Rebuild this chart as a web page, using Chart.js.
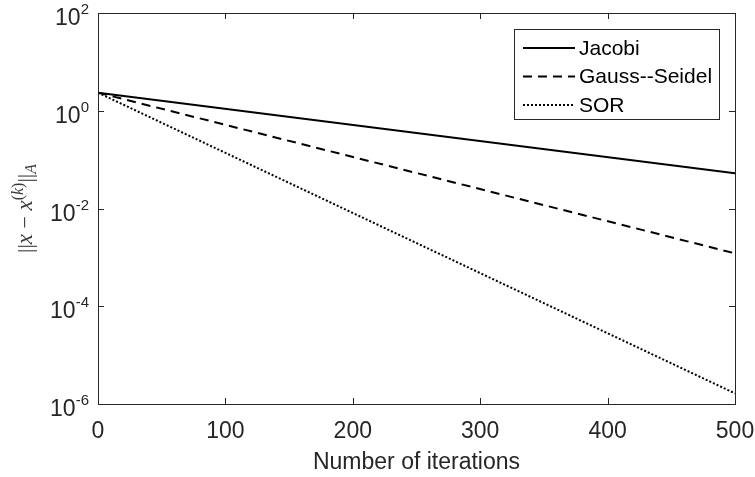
<!DOCTYPE html>
<html>
<head>
<meta charset="utf-8">
<title>Convergence of stationary iterative methods</title>
<script src="https://cdn.jsdelivr.net/npm/chart.js@4.4.0/dist/chart.umd.min.js"></script>
<style>
  html, body { margin: 0; padding: 0; background: #fff; }
  #wrap { width: 755px; height: 477px; position: relative; }
</style>
</head>
<body>
<div id="wrap"><canvas id="conv"></canvas></div>
<script>
// A-norm error after k iterations, one array per method
const iterations = [0, 500];
const jacobiErr = [2.34, 0.0525];
const gaussSeidelErr = [2.34, 1.21e-3];
const sorErr = [2.34, 1.65e-6];

const methodNames = ['Jacobi', 'Gauss--Seidel', 'SOR'];
const xTicks = [0, 100, 200, 300, 400, 500];
const yExponents = [-6, -4, -2, 0, 2];

const AXIS = '#262626';
const SANS = '"Liberation Sans", Arial, Helvetica, sans-serif';
const SERIF = '"Liberation Serif", "DejaVu Serif", serif';

function toPoints(values) {
    return iterations.map((x, i) => ({ x: x, y: values[i] }));
}

// box, inward ticks, 10^n labels, TeX-like y label and the legend
const matlabAxes = {
    id: 'matlabAxes',
    afterDraw(chart) {
        const ctx = chart.ctx;
        const { left, right, top, bottom } = chart.chartArea;
        const xs = chart.scales.x, ys = chart.scales.y;
        const tick = 6;

        ctx.save();
        ctx.strokeStyle = AXIS;
        ctx.lineWidth = 1;
        ctx.setLineDash([]);
        ctx.strokeRect(Math.round(left) + 0.5, Math.round(top) + 0.5,
                       Math.round(right - left), Math.round(bottom - top));

        ctx.beginPath();
        xTicks.forEach(v => {
            const px = Math.round(xs.getPixelForValue(v)) + 0.5;
            ctx.moveTo(px, bottom); ctx.lineTo(px, bottom - tick);
            ctx.moveTo(px, top); ctx.lineTo(px, top + tick);
        });
        yExponents.forEach(e => {
            const py = Math.round(ys.getPixelForValue(Math.pow(10, e))) + 0.5;
            ctx.moveTo(left, py); ctx.lineTo(left + tick, py);
            ctx.moveTo(right, py); ctx.lineTo(right - tick, py);
        });
        ctx.stroke();

        // y tick labels as 10 with a raised exponent
        ctx.fillStyle = AXIS;
        ctx.textBaseline = 'alphabetic';
        ctx.textAlign = 'left';
        const labelRight = left - 9;
        yExponents.forEach(e => {
            const py = ys.getPixelForValue(Math.pow(10, e));
            const exp = String(e);
            ctx.font = '15px ' + SANS;
            const ew = ctx.measureText(exp).width;
            ctx.fillText(exp, labelRight - ew, py + 1);
            ctx.font = '23px ' + SANS;
            const bw = ctx.measureText('10').width;
            ctx.fillText('10', labelRight - ew - bw, py + 12);
        });

        // y axis label ||x - x^(k)||_A
        const parts = [
            { t: '||', f: '22px ' + SERIF, dy: 0 },
            { t: 'x', f: 'italic 23px ' + SERIF, dy: 0 },
            { t: ' \u2212 ', f: '22px ' + SERIF, dy: 0 },
            { t: 'x', f: 'italic 23px ' + SERIF, dy: 0 },
            { t: '(', f: '16px ' + SERIF, dy: -9 },
            { t: 'k', f: 'italic 16px ' + SERIF, dy: -9 },
            { t: ')', f: '16px ' + SERIF, dy: -9 },
            { t: '||', f: '22px ' + SERIF, dy: 0 },
            { t: 'A', f: 'italic 16px ' + SERIF, dy: 4 }
        ];
        let total = 0;
        parts.forEach(p => { ctx.font = p.f; p.w = ctx.measureText(p.t).width; total += p.w; });
        ctx.save();
        ctx.translate(32, (top + bottom) / 2);
        ctx.rotate(-Math.PI / 2);
        ctx.fillStyle = '#3c3c3c';
        let cx = -total / 2;
        parts.forEach(p => {
            ctx.font = p.f;
            ctx.fillText(p.t, cx, p.dy);
            cx += p.w;
        });
        ctx.restore();

        // legend box in the upper right corner
        ctx.font = '21px ' + SANS;
        const texts = chart.data.datasets.map(d => d.label);
        const textW = Math.max(...texts.map(t => ctx.measureText(t).width));
        const sample = 52, padL = 9, gap = 4, padR = 7, rowH = 28.5;
        const boxW = padL + sample + gap + textW + padR;
        const boxH = 90;
        const bx = Math.round(right - 16 - boxW), by = Math.round(top + 16);
        ctx.fillStyle = '#fff';
        ctx.fillRect(bx, by, boxW, boxH);
        ctx.strokeStyle = AXIS;
        ctx.lineWidth = 1;
        ctx.strokeRect(bx + 0.5, by + 0.5, Math.round(boxW), boxH);
        ctx.textBaseline = 'middle';
        chart.data.datasets.forEach((d, i) => {
            const ry = by + 19 + i * rowH;
            ctx.save();
            ctx.strokeStyle = d.borderColor;
            ctx.lineWidth = d.borderWidth;
            ctx.setLineDash(d.borderDash || []);
            ctx.beginPath();
            ctx.moveTo(bx + padL, ry);
            ctx.lineTo(bx + padL + sample, ry);
            ctx.stroke();
            ctx.restore();
            ctx.fillStyle = '#000';
            ctx.fillText(d.label, bx + padL + sample + gap, ry + 1);
        });
        ctx.restore();
    }
};

const ctx = document.getElementById('conv');
new Chart(ctx, {
    type: 'line',
    data: {
        datasets: [
            { label: methodNames[0], data: toPoints(jacobiErr), borderColor: '#000', borderWidth: 2, borderDash: [] },
            { label: methodNames[1], data: toPoints(gaussSeidelErr), borderColor: '#000', borderWidth: 2, borderDash: [9, 6] },
            { label: methodNames[2], data: toPoints(sorErr), borderColor: '#000', borderWidth: 2, borderDash: [2, 2] }
        ]
    },
    options: {
        responsive: true,
        maintainAspectRatio: false,
        devicePixelRatio: 1,
        animation: false,
        layout: { padding: { top: 13, right: 20, left: 0, bottom: 0 } },
        elements: { point: { radius: 0 }, line: { tension: 0, borderCapStyle: 'butt' } },
        plugins: { legend: { display: false }, tooltip: { enabled: false } },
        scales: {
            x: {
                type: 'linear',
                min: 0,
                max: 500,
                afterBuildTicks: s => { s.ticks = xTicks.map(v => ({ value: v })); },
                afterFit: s => { s.height = 73; s.paddingLeft = 0; s.paddingRight = 0; },
                grid: { display: false },
                border: { display: false },
                ticks: { color: AXIS, font: { family: SANS, size: 23 }, padding: 6, maxRotation: 0 },
                title: {
                    display: true,
                    text: 'Number of iterations',
                    color: AXIS,
                    font: { family: SANS, size: 23 },
                    padding: { top: 0, bottom: 1 }
                }
            },
            y: {
                type: 'logarithmic',
                min: 1e-6,
                max: 1e2,
                afterBuildTicks: s => { s.ticks = yExponents.map(e => ({ value: Math.pow(10, e) })); },
                afterFit: s => { s.width = 98; },
                grid: { display: false },
                border: { display: false },
                ticks: { display: false }
            }
        }
    },
    plugins: [matlabAxes]
});
</script>
</body>
</html>
